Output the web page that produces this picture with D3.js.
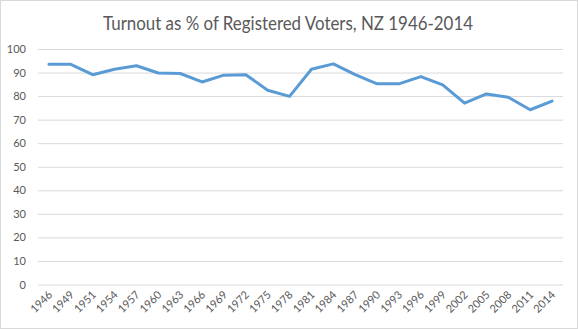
<!DOCTYPE html>
<html><head><meta charset="utf-8">
<script src="https://cdn.jsdelivr.net/npm/d3@7/dist/d3.min.js"></script>
<style>body{margin:0;background:#fff;}svg{display:block;}</style>
</head><body>
<script>
const years = ["1946","1949","1951","1954","1957","1960","1963","1966","1969","1972","1975","1978","1981","1984","1987","1990","1993","1996","1999","2002","2005","2008","2011","2014"];
const turnout = [93.5,93.5,89.1,91.4,92.9,89.8,89.6,86.0,88.9,89.1,82.5,79.9,91.4,93.7,89.1,85.2,85.2,88.3,84.8,77.0,80.9,79.5,74.2,77.9];
const yTicks = [0,10,20,30,40,50,60,70,80,90,100];
const title = "Turnout as % of Registered Voters, NZ 1946-2014";

const W = 578, H = 329;
const font = "Lato, 'Open Sans', sans-serif";
const svg = d3.select("body").append("svg").attr("width", W).attr("height", H);
svg.append("rect").attr("x",0.5).attr("y",0.5).attr("width",W-1).attr("height",H-1)
  .attr("fill","#fff").attr("stroke","#D9D9D9");

const x = d3.scaleBand().domain(years).range([38, 563]);
const y = d3.scaleLinear().domain([0,100]).range([284.5, 49]);

const t = svg.append("text").attr("x", 288).attr("y", 30).attr("text-anchor","middle")
  .attr("font-family", font).attr("font-size", 19).attr("fill","#595959").text(title);
// fit title to reference width
const tw = t.node().getComputedTextLength();
t.attr("textLength", 370).attr("lengthAdjust","spacingAndGlyphs");

const yAxis = svg.append("g").attr("transform","translate(38,0)")
  .call(d3.axisLeft(y).tickValues(yTicks).tickSize(-525).tickPadding(12));
yAxis.select(".domain").remove();
yAxis.selectAll("line").attr("stroke","#D9D9D9");
yAxis.selectAll("text").attr("font-family", font).attr("font-size", 11).attr("fill","#595959");

const xAxis = svg.append("g").attr("transform","translate(0,284.5)")
  .call(d3.axisBottom(x).tickSize(0).tickPadding(0));
xAxis.select(".domain").remove();
xAxis.selectAll("text")
  .attr("font-family", font).attr("font-size", 11).attr("fill","#595959")
  .attr("text-anchor","end").attr("dy", null).attr("y", 0).attr("x", 0)
  .attr("transform","translate(4,11) rotate(-45)");

const line = d3.line().x((d,i)=>x(years[i]) + x.bandwidth()/2).y(d=>y(d));
svg.append("path").datum(turnout).attr("d", line).attr("fill","none")
  .attr("stroke","#5B9BD5").attr("stroke-width",3).attr("stroke-linejoin","round").attr("stroke-linecap","round");
</script>
</body></html>
